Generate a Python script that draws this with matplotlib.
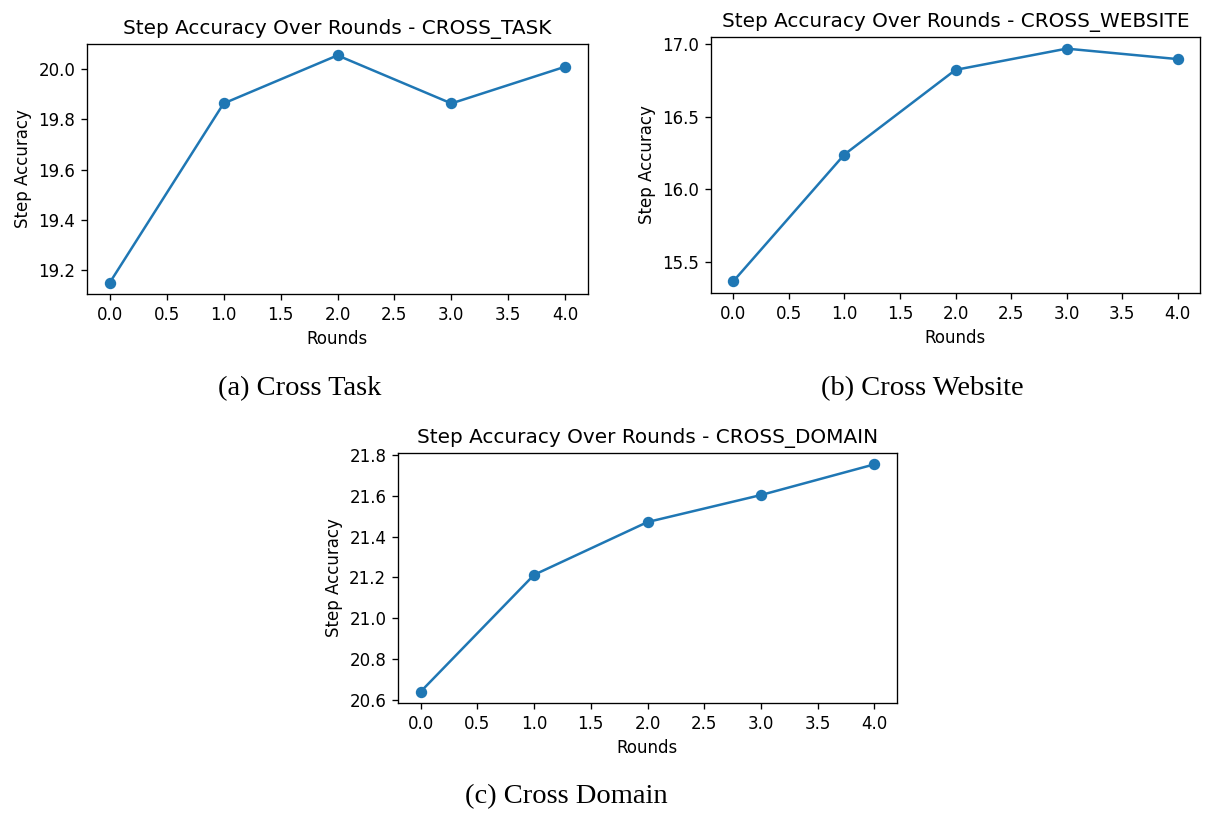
import matplotlib
matplotlib.use("Agg")
import matplotlib.pyplot as plt
from matplotlib.ticker import FormatStrFormatter

W, H = 1206, 813
DPI = 100
S = 1.2  # panels are drawn a bit larger than matplotlib's defaults

rounds = [0, 1, 2, 3, 4]
cross_task = [19.151, 19.863, 20.054, 19.863, 20.009]
cross_website = [15.368, 16.240, 16.822, 16.968, 16.896]
cross_domain = [20.642, 21.213, 21.471, 21.603, 21.753]

titles = [
    "Step Accuracy Over Rounds - CROSS_TASK",
    "Step Accuracy Over Rounds - CROSS_WEBSITE",
    "Step Accuracy Over Rounds - CROSS_DOMAIN",
]
captions = ["(a) Cross Task", "(b) Cross Website", "(c) Cross Domain"]

# axes boxes in pixels: left, top, right, bottom
boxes = [
    (87, 44, 588, 294),
    (711, 37, 1200, 293),
    (398, 453, 897, 703),
]
caption_pos = [(300, 389), (922, 389), (566, 797)]
yticks = [
    [19.2, 19.4, 19.6, 19.8, 20.0],
    [15.5, 16.0, 16.5, 17.0],
    [20.6, 20.8, 21.0, 21.2, 21.4, 21.6, 21.8],
]

plt.rcParams.update({
    "font.size": 10 * S,
    "axes.linewidth": 0.8 * S,
    "xtick.major.size": 3.5 * S,
    "ytick.major.size": 3.5 * S,
    "xtick.major.width": 0.8 * S,
    "ytick.major.width": 0.8 * S,
    "xtick.major.pad": 3.5 * S,
    "ytick.major.pad": 3.5 * S,
    "axes.labelpad": 4.0 * S,
    "axes.titlepad": 6.0 * S,
})

fig = plt.figure(figsize=(W / DPI, H / DPI), dpi=DPI)

series = [cross_task, cross_website, cross_domain]
for vals, title, (l, t, r, b), ticks in zip(series, titles, boxes, yticks):
    ax = fig.add_axes([l / W, 1 - b / H, (r - l) / W, (b - t) / H])
    ax.plot(rounds, vals, marker="o", color="#1f77b4",
            linewidth=1.5 * S, markersize=6 * S)
    ax.set_title(title, fontsize=12 * S)
    ax.set_xlabel("Rounds", fontsize=10 * S)
    ax.set_ylabel("Step Accuracy", fontsize=10 * S)
    ax.set_yticks(ticks)
    ax.set_xticks([0, 0.5, 1, 1.5, 2, 2.5, 3, 3.5, 4])
    ax.tick_params(labelsize=10 * S)
    ax.yaxis.set_major_formatter(FormatStrFormatter("%.1f"))
    ax.xaxis.set_major_formatter(FormatStrFormatter("%.1f"))

for (x, y), cap in zip(caption_pos, captions):
    fig.text(x / W, 1 - y / H, cap, ha="center", va="center",
             fontsize=20.5, family="Liberation Serif")

fig.savefig("out.png", dpi=DPI, facecolor="white")
